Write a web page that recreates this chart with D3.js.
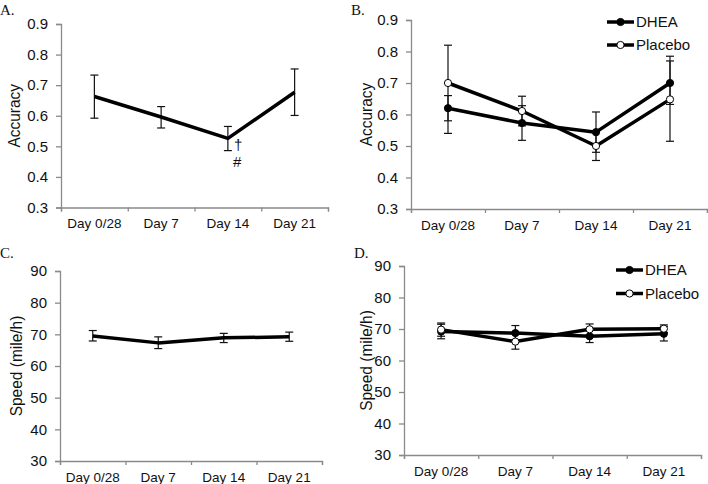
<!DOCTYPE html>
<html><head><meta charset="utf-8">
<script src="https://cdn.jsdelivr.net/npm/d3@7/dist/d3.min.js"></script>
<style>
body{margin:0;background:#fff;}
svg{display:block;}
</style></head>
<body>
<svg id="chart" width="708" height="484"></svg>
<script>
const days = ["Day 0/28","Day 7","Day 14","Day 21"];
const accTicks = [0.3,0.4,0.5,0.6,0.7,0.8,0.9];
const speedTicks = [30,40,50,60,70,80,90];

// Panel A: accuracy, all subjects
const accAll   = [0.663, 0.596, 0.526, 0.677];
const accAllLo = [0.592, 0.560, 0.486, 0.601];
const accAllHi = [0.733, 0.630, 0.565, 0.753];

// Panel B: accuracy by group
const accDhea   = [0.620, 0.573, 0.544, 0.700];
const accDheaLo = [0.580, 0.518, 0.480, 0.632];
const accDheaHi = [0.660, 0.628, 0.608, 0.770];
const accPlac   = [0.700, 0.611, 0.500, 0.648];
const accPlacLo = [0.540, 0.564, 0.454, 0.515];
const accPlacHi = [0.820, 0.658, 0.546, 0.785];

// Panel C: speed, all subjects
const spdAll   = [69.5, 67.3, 68.9, 69.2];
const spdAllLo = [67.9, 65.5, 67.4, 67.8];
const spdAllHi = [71.2, 69.2, 70.3, 70.7];

// Panel D: speed by group
const spdDhea   = [69.2, 68.7, 67.7, 68.5];
const spdDheaLo = [66.9, 66.4, 65.7, 66.2];
const spdDheaHi = [71.5, 71.1, 69.7, 70.8];
const spdPlac   = [69.8, 66.0, 69.9, 70.1];
const spdPlacLo = [67.7, 63.6, 68.1, 68.8];
const spdPlacHi = [71.9, 68.4, 71.6, 71.3];

const svg = d3.select("#chart");
const axisColor = "#8a8a8a";
const FONT = "'Liberation Sans', Arial, sans-serif";

function panel(cfg){
  const g = svg.append("g");
  const x = d3.scaleBand().domain(days).range([cfg.x0, cfg.x1]).padding(0);
  const xb = d3.scaleLinear().domain([0, days.length]).range([cfg.x0, cfg.x1]);
  const y = d3.scaleLinear().domain(cfg.yDomain).range([cfg.yBottom, cfg.yTop]);

  // y axis
  const ya = g.append("g").attr("transform", `translate(${cfg.x0},0)`)
    .call(d3.axisLeft(y).tickValues(cfg.ticks).tickSize(5).tickPadding(8).tickFormat(cfg.fmt));
  ya.select(".domain").attr("stroke", axisColor).attr("stroke-width", 1.3);
  ya.selectAll(".tick line").attr("stroke", axisColor).attr("stroke-width", 1.3);
  ya.selectAll(".tick text").attr("font-family", FONT).attr("font-size", 15).attr("fill", "#111");

  // x axis: tick marks at category boundaries
  const xa = g.append("g").attr("transform", `translate(0,${cfg.yBottom})`)
    .call(d3.axisBottom(xb).tickValues(d3.range(days.length+1)).tickSize(4).tickFormat(""));
  xa.select(".domain").attr("stroke", axisColor).attr("stroke-width", 1.3);
  xa.selectAll(".tick line").attr("stroke", axisColor).attr("stroke-width", 1.3);
  // x labels
  const xl = g.append("g").attr("transform", `translate(0,${cfg.yBottom})`)
    .call(d3.axisBottom(x).tickSize(0).tickPadding(11));
  xl.select(".domain").remove();
  xl.selectAll(".tick text").attr("font-family", FONT).attr("font-size", 13.5).attr("fill", "#111");

  // y title
  g.append("text").attr("transform", `translate(${cfg.titleX},${(cfg.yTop+cfg.yBottom)/2}) scale(1.12,1) rotate(-90)`)
    .attr("text-anchor", "middle").attr("dy", "0.35em")
    .attr("font-family", FONT).attr("font-size", 15.5).attr("fill", "#111").text(cfg.title);

  // panel letter
  g.append("text").attr("x", cfg.letterX).attr("y", cfg.letterY)
    .attr("font-family", "'Liberation Serif', 'Times New Roman', serif").attr("font-size", 15).attr("fill", "#111")
    .text(cfg.letter);

  const cx = d => x(d) + x.bandwidth()/2;
  const line = d3.line().x(d => cx(d.day)).y(d => y(d.v));

  cfg.series.forEach(s => {
    const data = days.map((d,i) => ({day:d, v:s.v[i], lo:s.lo[i], hi:s.hi[i]}));
    const eb = g.append("g").attr("stroke", "#111").attr("stroke-width", 1.2);
    data.forEach(d => {
      eb.append("line").attr("x1", cx(d.day)).attr("x2", cx(d.day)).attr("y1", y(d.lo)).attr("y2", y(d.hi));
      eb.append("line").attr("x1", cx(d.day)-4).attr("x2", cx(d.day)+4).attr("y1", y(d.lo)).attr("y2", y(d.lo));
      eb.append("line").attr("x1", cx(d.day)-4).attr("x2", cx(d.day)+4).attr("y1", y(d.hi)).attr("y2", y(d.hi));
    });
    s.data = data;
  });
  cfg.series.forEach(s => {
    g.append("path").datum(s.data).attr("d", line).attr("fill", "none")
      .attr("stroke", "#000").attr("stroke-width", 3.5).attr("stroke-linejoin", "round");
  });
  cfg.series.forEach(s => {
    if (!s.marker) return;
    g.selectAll(null).data(s.data).enter().append("circle")
      .attr("cx", d => cx(d.day)).attr("cy", d => y(d.v)).attr("r", 3.6)
      .attr("fill", s.marker === "filled" ? "#000" : "#fff")
      .attr("stroke", "#000").attr("stroke-width", 1);
  });

  // legend
  if (cfg.legend) {
    cfg.series.forEach((s, i) => {
      const ly = cfg.legend.y + i*cfg.legend.dy;
      g.append("line").attr("x1", cfg.legend.x).attr("x2", cfg.legend.x+27).attr("y1", ly).attr("y2", ly)
        .attr("stroke", "#000").attr("stroke-width", 3.5);
      g.append("circle").attr("cx", cfg.legend.x+13.5).attr("cy", ly).attr("r", 3.6)
        .attr("fill", s.marker === "filled" ? "#000" : "#fff").attr("stroke", "#000").attr("stroke-width", 1);
      g.append("text").attr("x", cfg.legend.x+29).attr("y", ly).attr("dy", "0.35em")
        .attr("font-family", FONT).attr("font-size", 15).attr("fill", "#111").text(s.name);
    });
  }

  if (cfg.annot) {
    cfg.annot.forEach(a => {
      g.append("text").attr("x", cx(a.day) + a.dx).attr("y", y(a.v) + a.dy)
        .attr("font-family", FONT).attr("font-size", 15).attr("fill", "#111").text(a.text);
    });
  }
}

panel({letter:"A.", letterX:0, letterY:15, x0:61, x1:328, yTop:24, yBottom:207.5,
  yDomain:[0.3,0.9], ticks:accTicks, fmt:d3.format(".1f"), title:"Accuracy", titleX:14,
  series:[{name:"All", v:accAll, lo:accAllLo, hi:accAllHi, marker:null}],
  annot:[{day:"Day 14", v:accAll[2], dx:6, dy:11.5, text:"†"},{day:"Day 14", v:accAll[2], dx:5, dy:28.5, text:"#"}]});

panel({letter:"B.", letterX:351, letterY:15, x0:411, x1:707, yTop:20, yBottom:209,
  yDomain:[0.3,0.9], ticks:accTicks, fmt:d3.format(".1f"), title:"Accuracy", titleX:366,
  series:[{name:"DHEA", v:accDhea, lo:accDheaLo, hi:accDheaHi, marker:"filled"},
          {name:"Placebo", v:accPlac, lo:accPlacLo, hi:accPlacHi, marker:"open"}],
  legend:{x:607, y:22, dy:23}});

panel({letter:"C.", letterX:0, letterY:258, x0:60, x1:322, yTop:271, yBottom:461,
  yDomain:[30,90], ticks:speedTicks, fmt:d3.format("d"), title:"Speed (mile/h)", titleX:16,
  series:[{name:"All", v:spdAll, lo:spdAllLo, hi:spdAllHi, marker:null}]});

panel({letter:"D.", letterX:354, letterY:258, x0:404, x1:701, yTop:266, yBottom:455,
  yDomain:[30,90], ticks:speedTicks, fmt:d3.format("d"), title:"Speed (mile/h)", titleX:366,
  series:[{name:"DHEA", v:spdDhea, lo:spdDheaLo, hi:spdDheaHi, marker:"filled"},
          {name:"Placebo", v:spdPlac, lo:spdPlacLo, hi:spdPlacHi, marker:"open"}],
  legend:{x:616, y:270, dy:23.5}});
</script>
</body></html>
